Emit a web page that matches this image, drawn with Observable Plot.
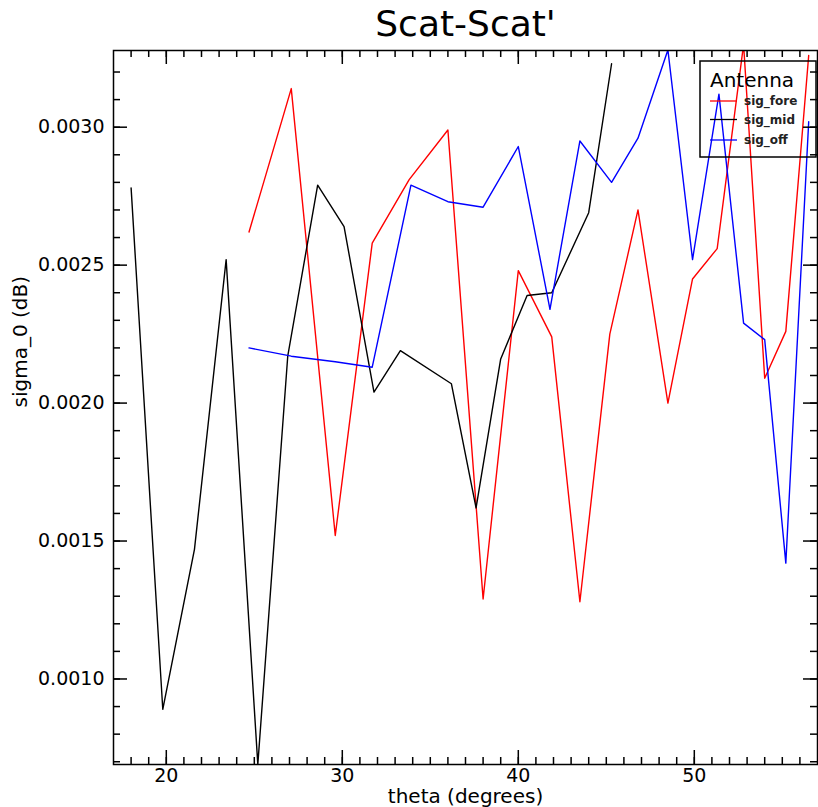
<!DOCTYPE html>
<html><head><meta charset="utf-8">
<script src="https://cdn.jsdelivr.net/npm/d3@7"></script>
<script src="https://cdn.jsdelivr.net/npm/@observablehq/plot@0.6"></script>
<style>
body{margin:0;background:#fff;}
#wrap{position:relative;width:818px;height:807px;font-family:"DejaVu Sans",sans-serif;}
#legend{position:absolute;left:699px;top:60px;}
</style></head><body><div id="wrap"></div>
<script>
const titleText = "Scat-Scat'";
const xLabel = "theta (degrees)";
const yLabel = "sigma_0 (dB)";
const legendTitle = "Antenna";
const seriesNames = ["sig_fore", "sig_mid", "sig_off"];
const seriesColors = ["#ff0000", "#000000", "#0000ff"];

const foreTheta = [24.7, 27.1, 29.6, 31.7, 33.8, 36.0, 38.0, 40.0, 41.9, 43.5, 45.2, 46.8, 48.5, 49.9, 51.3, 52.8, 54.0, 55.2, 56.5];
const foreSigma = [0.00262, 0.00314, 0.00152, 0.00258, 0.00281, 0.00299, 0.00129, 0.00248, 0.00224, 0.00128, 0.00225, 0.00270, 0.00200, 0.00245, 0.00256, 0.00330, 0.00209, 0.00226, 0.00326];

const midTheta = [18.0, 19.8, 21.6, 23.4, 25.2, 26.9, 28.6, 30.1, 31.8, 33.3, 36.2, 37.6, 39.0, 40.5, 41.9, 44.0, 45.3];
const midSigma = [0.00278, 0.00089, 0.00147, 0.00252, 0.00069, 0.00217, 0.00279, 0.00264, 0.00204, 0.00219, 0.00207, 0.00162, 0.00216, 0.00239, 0.00240, 0.00269, 0.00323];

const offTheta = [24.7, 27.1, 29.6, 31.7, 33.9, 36.0, 38.0, 40.0, 41.8, 43.5, 45.3, 46.8, 48.5, 49.9, 51.4, 52.8, 54.0, 55.2, 56.5];
const offSigma = [0.00220, 0.00217, 0.00215, 0.00213, 0.00279, 0.00273, 0.00271, 0.00293, 0.00234, 0.00295, 0.00280, 0.00296, 0.00328, 0.00252, 0.00312, 0.00229, 0.00223, 0.00142, 0.00302];

const xDomain = [17, 57];
const yDomain = [0.00069, 0.003278];
const xMajor = [20, 30, 40, 50];
const xMinor = d3.range(18, 57, 1);
const yMajor = [0.0010, 0.0015, 0.0020, 0.0025, 0.0030];
const yMinor = d3.range(7, 33).map(d => d / 10000);

const thetas = [foreTheta, midTheta, offTheta];
const sigmas = [foreSigma, midSigma, offSigma];
const data = [];
seriesNames.forEach((name, k) => {
  thetas[k].forEach((t, i) => data.push({series: name, theta: t, sigma: sigmas[k][i]}));
});

const W = 818, H = 807, mL = 113, mR = 1, mT = 50, mB = 43;
const fw = W - mL - mR, fh = H - mT - mB;
const tk = {stroke: "black", strokeWidth: 1.5};
// inward ticks of length L on each side of the frame
const bottomTicks = (vals, L) => Plot.tickX(vals, {x: d => d, insetTop: fh - L, ...tk});
const topTicks = (vals, L) => Plot.tickX(vals, {x: d => d, insetBottom: fh - L, ...tk});
const leftTicks = (vals, L) => Plot.tickY(vals, {y: d => d, insetRight: fw - L, ...tk});
const rightTicks = (vals, L) => Plot.tickY(vals, {y: d => d, insetLeft: fw - L, ...tk});

const chart = Plot.plot({
  width: W, height: H,
  marginLeft: mL, marginRight: mR, marginTop: mT, marginBottom: mB,
  style: {fontFamily: "DejaVu Sans, sans-serif", fontSize: "19px", color: "black", background: "white"},
  x: {domain: xDomain},
  y: {domain: yDomain},
  color: {domain: seriesNames, range: seriesColors},
  marks: [
    Plot.line(data, {x: "theta", y: "sigma", z: "series", stroke: "series", strokeWidth: 1.4, clip: true}),
    Plot.frame({stroke: "black", strokeWidth: 1.5}),
    bottomTicks(xMinor, 7), bottomTicks(xMajor, 14),
    topTicks(xMinor, 7), topTicks(xMajor, 14),
    leftTicks(yMinor, 7), leftTicks(yMajor, 14),
    rightTicks(yMinor, 7), rightTicks(yMajor, 14),
    Plot.axisX(xMajor, {anchor: "bottom", tickSize: 0, tickPadding: 4, fontSize: 19, label: null, fill: "black"}),
    Plot.axisY(yMajor, {anchor: "left", tickSize: 0, tickPadding: 9, fontSize: 19, tickFormat: ".4f", label: null, fill: "black"}),
    Plot.text([titleText], {text: d => d, frameAnchor: "top", lineAnchor: "middle", dy: -26, fontSize: 36, fill: "black", letterSpacing: 4}),
    Plot.text([xLabel], {text: d => d, frameAnchor: "bottom", lineAnchor: "middle", dy: 32, fontSize: 20, fill: "black"}),
    Plot.text([yLabel], {text: d => d, frameAnchor: "left", lineAnchor: "middle", dx: -93, rotate: -90, fontSize: 20, fill: "black"})
  ]
});
document.getElementById("wrap").appendChild(chart);

// legend overlay (transparent box, as in the reference)
const lg = d3.select("#wrap").append("svg").attr("id", "legend")
  .attr("width", 119).attr("height", 99)
  .style("font-family", "DejaVu Sans, sans-serif");
lg.append("rect").attr("x", 1).attr("y", 1).attr("width", 116).attr("height", 96)
  .attr("fill", "none").attr("stroke", "black").attr("stroke-width", 1.5);
lg.append("text").attr("x", 11).attr("y", 27).attr("font-size", 20).text(legendTitle);
const rowY = [41, 59.5, 80];
seriesNames.forEach((name, i) => {
  lg.append("line").attr("x1", 11).attr("x2", 38).attr("y1", rowY[i]).attr("y2", rowY[i])
    .attr("stroke", seriesColors[i]).attr("stroke-width", 1.3);
  lg.append("text").attr("x", 45).attr("y", rowY[i] + 4).attr("font-size", 12).attr("font-weight", "bold")
    .attr("fill", "#222").text(name);
});
</script></body></html>
